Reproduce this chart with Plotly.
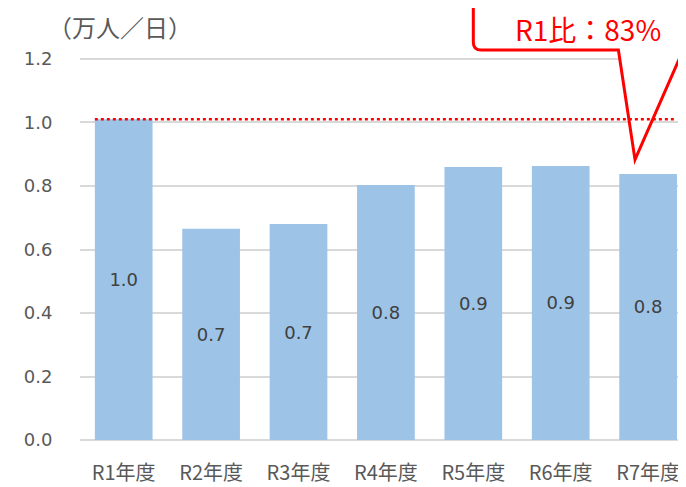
import plotly.graph_objects as go

categories = ["R1年度", "R2年度", "R3年度", "R4年度", "R5年度", "R6年度", "R7年度"]
values = [1.01, 0.665, 0.68, 0.803, 0.86, 0.863, 0.838]
y_ticks = [0.0, 0.2, 0.4, 0.6, 0.8, 1.0, 1.2]
unit_label = "（万人／日）"

CJK = "Noto Sans CJK JP, Noto Sans, sans-serif"
NUM = "DejaVu Sans, Noto Sans CJK JP, sans-serif"
xs = list(range(len(categories)))
bar_w = 0.66
ratio = values[-1] / values[0]

fig = go.Figure()
fig.add_trace(go.Bar(
    x=xs, y=values, width=bar_w,
    marker=dict(color="#9DC3E6", line=dict(width=0)),
    texttemplate="%{y:.1f}", textposition="inside", insidetextanchor="middle",
    textfont=dict(family=NUM, size=18, color="#404040"),
    constraintext="none",
))

# callout balloon pointing at last bar (drawn first so the dotted line sits on top)
tip_x, tip_y = xs[-1] - 0.15, values[-1] + 0.045
by = 1.228
path = (f"M 4.0,1.6 L 4.0,{by+0.025} Q 4.0,{by} 4.09,{by} "
        f"L 5.66,{by} L {tip_x},{tip_y} L 6.40,{by} L 7.2,{by} L 7.2,1.6 Z")
fig.add_shape(type="path", xref="x", yref="y", path=path,
              fillcolor="white", line=dict(color="#FF0000", width=3), layer="above")

# dotted reference line at R1 level
fig.add_shape(type="line", xref="x", yref="y",
              x0=xs[0] - bar_w / 2, x1=xs[-1] + 0.31, y0=values[0], y1=values[0],
              line=dict(color="#FF0000", width=2.5, dash="dot"), layer="above")

fig.add_annotation(x=4.45, y=0.951, xref="x", yref="paper",
                   text=f"R1比：{ratio*100:.0f}%", showarrow=False,
                   xanchor="left", yanchor="middle",
                   font=dict(family=CJK, size=28, color="#FF0000"))

fig.add_annotation(x=-0.055, y=0.958, xref="paper", yref="paper",
                   text=unit_label, showarrow=False, xanchor="left", yanchor="middle",
                   font=dict(family=CJK, size=24, color="#595959"))

fig.update_layout(
    width=686, height=487,
    margin=dict(l=72, r=0, t=0, b=55),
    paper_bgcolor="white", plot_bgcolor="white",
    showlegend=False,
    bargap=0.34,
    xaxis=dict(range=[-0.5, 6.525], tickvals=xs, ticktext=categories,
               showgrid=False, zeroline=False, showline=False,
               ticks="outside", ticklen=15, tickcolor="rgba(0,0,0,0)",
               tickfont=dict(family=CJK, size=20, color="#595959")),
    yaxis=dict(range=[0, 1.3606], tickvals=y_ticks,
               ticktext=[f"{v:.1f}" for v in y_ticks],
               showgrid=True, gridcolor="#D9D9D9", gridwidth=1.5,
               zeroline=True, zerolinecolor="#D9D9D9", zerolinewidth=1.5,
               showline=False,
               ticks="outside", ticklen=23, tickcolor="rgba(0,0,0,0)",
               tickfont=dict(family=NUM, size=18, color="#595959")),
)

fig.write_html("out.html")
